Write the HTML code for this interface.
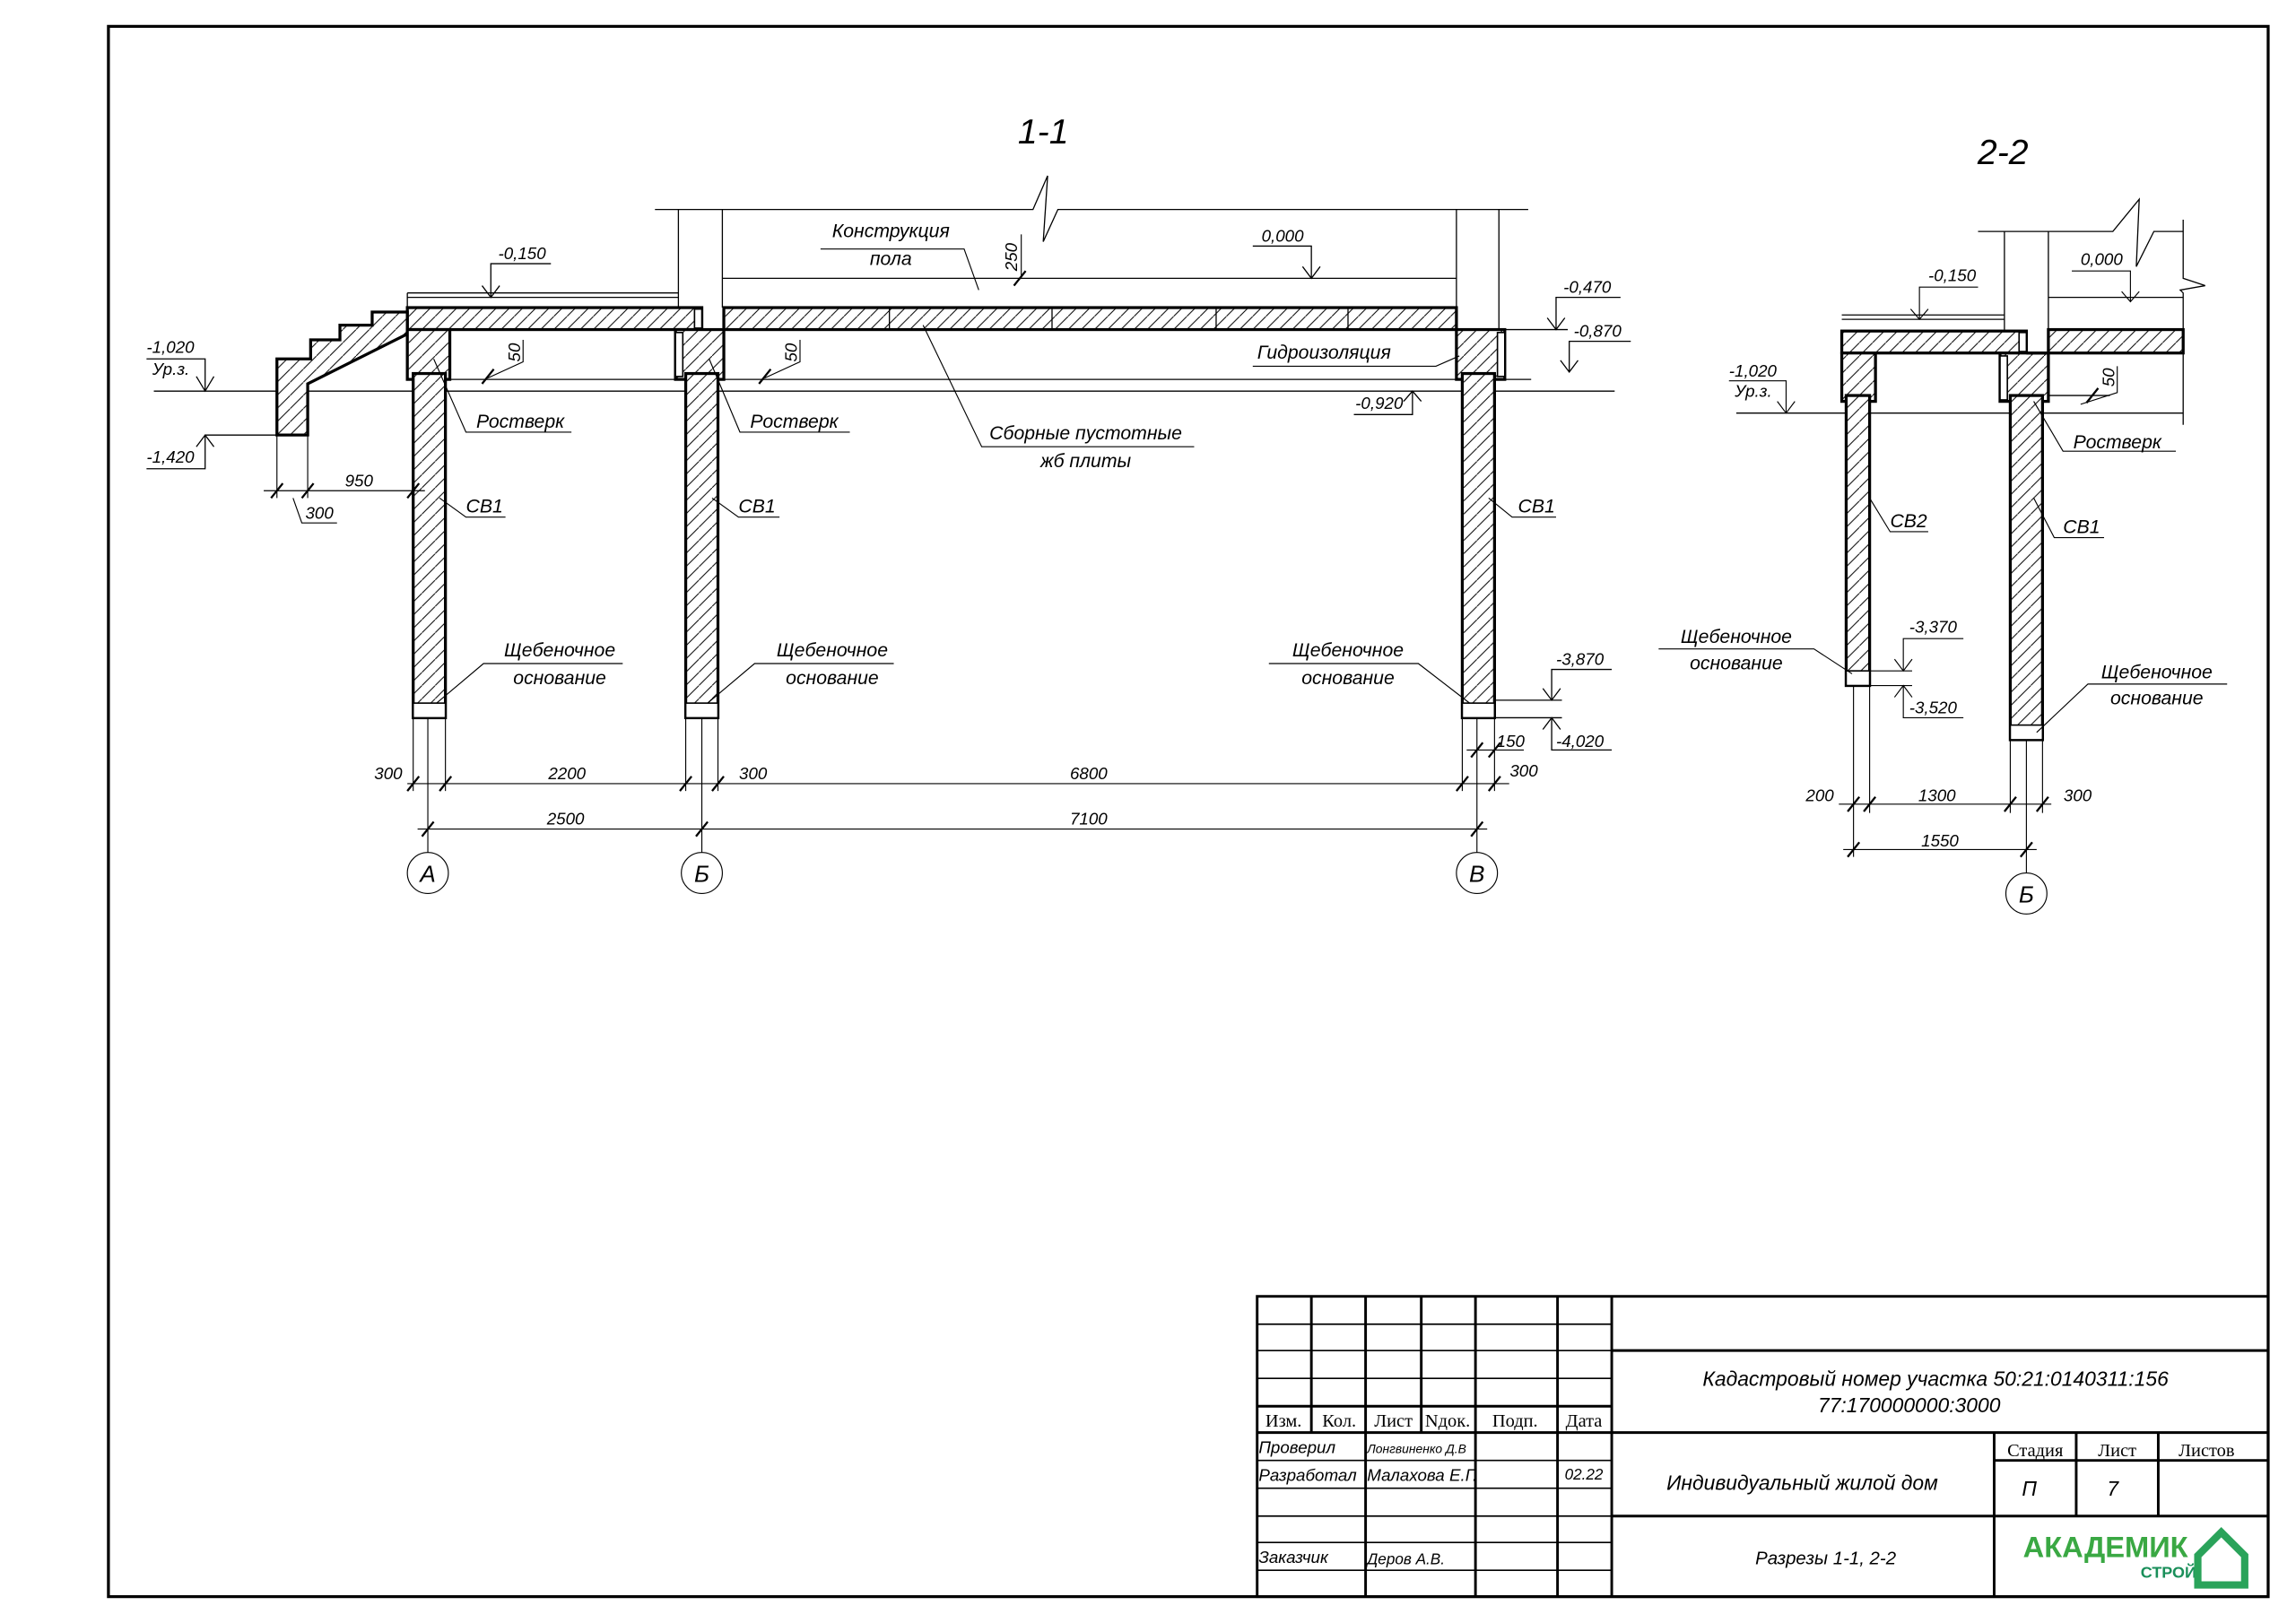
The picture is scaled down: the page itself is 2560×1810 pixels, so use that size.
<!DOCTYPE html>
<html><head><meta charset="utf-8"><style>
html,body{margin:0;padding:0;background:#fff;}
svg{display:block;}
text{font-family:"Liberation Sans","DejaVu Sans",sans-serif;font-style:italic;fill:#000;}
.s{font-size:13px;}
.d{font-size:11.5px;}
text.tn,.tn text{font-family:"Liberation Serif",serif;font-style:normal;font-size:12.5px;}
</style></head><body>
<svg width="2560" height="1810" viewBox="0 0 1567 1108" preserveAspectRatio="none" xmlns="http://www.w3.org/2000/svg">
<defs>
<pattern id="h" width="9" height="9" patternUnits="userSpaceOnUse">
<rect width="9" height="9" fill="#fff"/>
<line x1="0" y1="9" x2="9" y2="0" stroke="#000" stroke-width="0.6"/>
</pattern>
</defs>
<rect x="0" y="0" width="1567" height="1108" fill="#fff"/>
<rect x="74" y="18" width="1474" height="1072" fill="none" stroke="#000" stroke-width="2"/>

<text x="712" y="98" font-size="24" text-anchor="middle">1-1</text>
<g stroke="#000" stroke-width="0.8" fill="none">
<polyline points="447,143 705,143 715,120 712,165 722,143 1043,143"/>
<line x1="463" y1="143" x2="463" y2="210"/>
<line x1="493" y1="143" x2="493" y2="210"/>
<line x1="994" y1="143" x2="994" y2="210"/>
<line x1="1023" y1="143" x2="1023" y2="225"/>
<line x1="493" y1="190" x2="994" y2="190"/>
<line x1="278" y1="200" x2="463" y2="200"/>
<line x1="278" y1="203" x2="463" y2="203"/>
<line x1="278" y1="200" x2="278" y2="210"/>
<line x1="105" y1="267" x2="1102" y2="267"/>
<line x1="278" y1="259" x2="460" y2="259"/>
<line x1="494" y1="259" x2="994" y2="259"/>
<line x1="1027" y1="259" x2="1045" y2="259"/>
<line x1="1027" y1="225" x2="1070" y2="225"/>
</g>
<g stroke="#000" stroke-width="2" fill="url(#h)">
<rect x="278" y="210" width="201" height="15"/>
<rect x="494" y="210" width="500" height="15"/>
<polygon points="189,245 212,245 212,232 232,232 232,222 254,222 254,213 278,213 278,228 210,262 210,297 189,297"/>
<rect x="278" y="225" width="29" height="34"/>
<rect x="461" y="225" width="33" height="34"/>
<rect x="994" y="225" width="33" height="34"/>
<rect x="282" y="255" width="22" height="235"/>
<rect x="468" y="255" width="22" height="235"/>
<rect x="998" y="255" width="22" height="235"/>
</g>
<g stroke="#000" stroke-width="1" fill="#fff">
<rect x="282" y="480" width="22" height="10"/>
<rect x="468" y="480" width="22" height="10"/>
<rect x="998" y="480" width="22" height="10"/>
<rect x="461" y="227" width="5" height="30"/>
<rect x="1022" y="227" width="5" height="30"/>
<rect x="474" y="211" width="5" height="13"/>
</g>
<g stroke="#000" stroke-width="0.8">
<line x1="607" y1="210" x2="607" y2="225"/><line x1="718" y1="210" x2="718" y2="225"/>
<line x1="830" y1="210" x2="830" y2="225"/><line x1="920" y1="210" x2="920" y2="225"/>
</g>
<g stroke="#000" stroke-width="0.7" fill="none">
<line x1="292" y1="490" x2="292" y2="582"/><line x1="479" y1="490" x2="479" y2="582"/><line x1="1008" y1="490" x2="1008" y2="582"/>
<line x1="282" y1="490" x2="282" y2="540"/><line x1="304" y1="490" x2="304" y2="540"/>
<line x1="468" y1="490" x2="468" y2="540"/><line x1="490" y1="490" x2="490" y2="540"/>
<line x1="998" y1="490" x2="998" y2="540"/><line x1="1020" y1="490" x2="1020" y2="540"/>
<line x1="189" y1="297" x2="189" y2="340"/><line x1="210" y1="297" x2="210" y2="340"/>
<line x1="278" y1="535" x2="1030" y2="535"/>
<line x1="285" y1="566" x2="1015" y2="566"/>
<line x1="180" y1="335" x2="290" y2="335"/>
<line x1="1001" y1="512" x2="1040" y2="512"/>
<circle cx="292" cy="596" r="14"/><circle cx="479" cy="596" r="14"/><circle cx="1008" cy="596" r="14"/>
</g>
<g stroke="#000" stroke-width="1.4">
<line x1="278" y1="540" x2="286" y2="530"/><line x1="300" y1="540" x2="308" y2="530"/>
<line x1="464" y1="540" x2="472" y2="530"/><line x1="486" y1="540" x2="494" y2="530"/>
<line x1="994" y1="540" x2="1002" y2="530"/><line x1="1016" y1="540" x2="1024" y2="530"/>
<line x1="288" y1="571" x2="296" y2="561"/><line x1="475" y1="571" x2="483" y2="561"/><line x1="1004" y1="571" x2="1012" y2="561"/>
<line x1="185" y1="340" x2="193" y2="330"/><line x1="206" y1="340" x2="214" y2="330"/><line x1="278" y1="340" x2="286" y2="330"/>
<line x1="1004" y1="517" x2="1012" y2="507"/><line x1="1016" y1="517" x2="1024" y2="507"/>
<line x1="329" y1="262" x2="337" y2="252"/><line x1="518" y1="262" x2="526" y2="252"/><line x1="692" y1="195" x2="700" y2="185"/>
</g>
<g class="d">
<text x="265" y="532" text-anchor="middle">300</text>
<text x="387" y="532" text-anchor="middle">2200</text>
<text x="514" y="532" text-anchor="middle">300</text>
<text x="743" y="532" text-anchor="middle">6800</text>
<text x="1040" y="530" text-anchor="middle">300</text>
<text x="1031" y="510" text-anchor="middle">150</text>
<text x="386" y="563" text-anchor="middle">2500</text>
<text x="743" y="563" text-anchor="middle">7100</text>
<text x="245" y="332" text-anchor="middle">950</text>
<text x="218" y="354" text-anchor="middle">300</text>
</g>
<g font-size="16" text-anchor="middle"><text x="292" y="602">А</text><text x="479" y="602">Б</text><text x="1008" y="602">В</text></g>
<g stroke="#000" stroke-width="0.7" fill="none">
<polyline points="200,340 206,357 230,357"/>
<polyline points="296,245 318,295 390,295"/>
<polyline points="484,245 505,295 580,295"/>
<polyline points="300,340 318,353 345,353"/>
<polyline points="486,340 504,353 532,353"/>
<polyline points="1016,340 1032,353 1062,353"/>
<polyline points="298,480 330,453 425,453"/>
<polyline points="483,480 515,453 610,453"/>
<polyline points="1003,480 968,453 866,453"/>
<polyline points="630,222 670,305 815,305"/>
<polyline points="668,198 658,170 560,170"/>
<polyline points="996,243 980,250 855,250"/>
<polyline points="333,258 357,247 357,232"/>
<polyline points="522,258 546,247 546,232"/>
<polyline points="697,190 697,160"/>
</g>
<g class="s">
<text x="325" y="292">Ростверк</text>
<text x="512" y="292">Ростверк</text>
<text x="318" y="350">СВ1</text>
<text x="504" y="350">СВ1</text>
<text x="1036" y="350">СВ1</text>
<text x="382" y="448" text-anchor="middle">Щебеночное</text>
<text x="382" y="467" text-anchor="middle">основание</text>
<text x="568" y="448" text-anchor="middle">Щебеночное</text>
<text x="568" y="467" text-anchor="middle">основание</text>
<text x="920" y="448" text-anchor="middle">Щебеночное</text>
<text x="920" y="467" text-anchor="middle">основание</text>
<text x="608" y="162" text-anchor="middle">Конструкция</text>
<text x="608" y="181" text-anchor="middle">пола</text>
<text x="741" y="300" text-anchor="middle">Сборные пустотные</text>
<text x="741" y="319" text-anchor="middle">жб плиты</text>
<text x="858" y="245">Гидроизоляция</text>
</g>
<g class="d">
<text x="355" y="247" transform="rotate(-90 355 247)">50</text>
<text x="544" y="247" transform="rotate(-90 544 247)">50</text>
<text x="694" y="185" transform="rotate(-90 694 185)">250</text>
</g>
<g stroke="#000" stroke-width="0.8" fill="none">
<polyline points="329,195 335,203 341,195"/><polyline points="335,203 335,180 376,180"/>
<polyline points="889,182 895,190 901,182"/><polyline points="895,190 895,168 855,168"/>
<polyline points="134,257 140,267 146,257"/><polyline points="140,267 140,245 100,245"/>
<polyline points="134,305 140,297 146,305"/><polyline points="140,297 140,320 100,320"/>
<line x1="140" y1="297" x2="189" y2="297"/>
<polyline points="1056,217 1062,225 1068,217"/><polyline points="1062,225 1062,203 1106,203"/>
<polyline points="1065,246 1071,254 1077,246"/><polyline points="1071,254 1071,233 1113,233"/>
<polyline points="958,274 964,267 970,274"/><polyline points="964,267 964,283 924,283"/>
<polyline points="1053,470 1059,478 1065,470"/><polyline points="1059,478 1059,457 1100,457"/>
<polyline points="1053,498 1059,490 1065,498"/><polyline points="1059,490 1059,512 1100,512"/>
<line x1="1020" y1="478" x2="1066" y2="478"/><line x1="1020" y1="490" x2="1066" y2="490"/>
</g>
<g class="d">
<text x="340" y="177">-0,150</text>
<text x="861" y="165">0,000</text>
<text x="100" y="241">-1,020</text>
<text x="104" y="256">Ур.з.</text>
<text x="100" y="316">-1,420</text>
<text x="1067" y="200">-0,470</text>
<text x="1074" y="230">-0,870</text>
<text x="925" y="279">-0,920</text>
<text x="1062" y="454">-3,870</text>
<text x="1062" y="510">-4,020</text>
</g>

<text x="1367" y="112" font-size="24" text-anchor="middle">2-2</text>
<g stroke="#000" stroke-width="0.8" fill="none">
<polyline points="1350,158 1442,158 1460,136 1458,182 1470,158 1490,158"/>
<polyline points="1490,150 1490,190 1505,195 1488,198 1490,200 1490,290"/>
<line x1="1368" y1="158" x2="1368" y2="225"/>
<line x1="1398" y1="158" x2="1398" y2="225"/>
<line x1="1398" y1="203" x2="1490" y2="203"/>
<line x1="1257" y1="215" x2="1368" y2="215"/>
<line x1="1257" y1="218" x2="1368" y2="218"/>
<line x1="1185" y1="282" x2="1490" y2="282"/>
<line x1="1398" y1="270" x2="1440" y2="270"/>
</g>
<g stroke="#000" stroke-width="2" fill="url(#h)">
<rect x="1257" y="226" width="126" height="15"/>
<rect x="1398" y="225" width="92" height="16"/>
<rect x="1257" y="241" width="23" height="33"/>
<rect x="1365" y="241" width="33" height="33"/>
<rect x="1260" y="270" width="16" height="198"/>
<rect x="1372" y="270" width="22" height="235"/>
<line x1="1383" y1="241" x2="1398" y2="241"/>
</g>
<g stroke="#000" stroke-width="1" fill="#fff">
<rect x="1260" y="458" width="16" height="10"/>
<rect x="1372" y="495" width="22" height="10"/>
<rect x="1365" y="243" width="5" height="30"/>
<rect x="1378" y="227" width="5" height="13"/>
</g>
<g stroke="#000" stroke-width="0.7" fill="none">
<line x1="1265" y1="468" x2="1265" y2="585"/><line x1="1276" y1="468" x2="1276" y2="555"/>
<line x1="1372" y1="505" x2="1372" y2="555"/><line x1="1394" y1="505" x2="1394" y2="555"/>
<line x1="1383" y1="505" x2="1383" y2="596"/>
<line x1="1255" y1="549" x2="1400" y2="549"/>
<line x1="1258" y1="580" x2="1390" y2="580"/>
<circle cx="1383" cy="610" r="14"/>
<line x1="1276" y1="458" x2="1305" y2="458"/><line x1="1276" y1="468" x2="1305" y2="468"/>
<polyline points="1293,450 1299,458 1305,450"/><polyline points="1299,458 1299,436 1340,436"/>
<polyline points="1293,476 1299,468 1305,476"/><polyline points="1299,468 1299,490 1340,490"/>
<polyline points="1304,211 1310,218 1316,211"/><polyline points="1310,218 1310,196 1350,196"/>
<polyline points="1448,199 1454,206 1460,199"/><polyline points="1454,206 1454,185 1414,185"/>
<polyline points="1213,274 1219,282 1225,274"/><polyline points="1219,282 1219,260 1180,260"/>
<polyline points="1388,274 1408,308 1485,308"/>
<polyline points="1276,340 1290,363 1316,363"/>
<polyline points="1388,340 1402,367 1436,367"/>
<polyline points="1264,460 1238,443 1132,443"/>
<polyline points="1390,500 1425,467 1520,467"/>
<polyline points="1420,276 1445,268 1445,250"/>
</g>
<g stroke="#000" stroke-width="1.4">
<line x1="1261" y1="554" x2="1269" y2="544"/><line x1="1272" y1="554" x2="1280" y2="544"/>
<line x1="1368" y1="554" x2="1376" y2="544"/><line x1="1390" y1="554" x2="1398" y2="544"/>
<line x1="1261" y1="585" x2="1269" y2="575"/><line x1="1379" y1="585" x2="1387" y2="575"/>
<line x1="1424" y1="275" x2="1432" y2="265"/>
</g>
<g class="d">
<text x="1242" y="547" text-anchor="middle">200</text>
<text x="1322" y="547" text-anchor="middle">1300</text>
<text x="1418" y="547" text-anchor="middle">300</text>
<text x="1324" y="578" text-anchor="middle">1550</text>
<text x="1316" y="192">-0,150</text>
<text x="1420" y="181">0,000</text>
<text x="1180" y="257">-1,020</text>
<text x="1184" y="271">Ур.з.</text>
<text x="1303" y="432">-3,370</text>
<text x="1303" y="487">-3,520</text>
<text x="1443" y="264" transform="rotate(-90 1443 264)">50</text>
</g>
<text x="1383" y="616" font-size="16" text-anchor="middle">Б</text>
<g class="s">
<text x="1415" y="306">Ростверк</text>
<text x="1290" y="360">СВ2</text>
<text x="1408" y="364">СВ1</text>
<text x="1185" y="439" text-anchor="middle">Щебеночное</text>
<text x="1185" y="457" text-anchor="middle">основание</text>
<text x="1472" y="463" text-anchor="middle">Щебеночное</text>
<text x="1472" y="481" text-anchor="middle">основание</text>
</g>

<g stroke="#000" stroke-width="1.8" fill="none">
<rect x="858" y="885" width="690" height="205"/>
<line x1="1100" y1="885" x2="1100" y2="1090"/>
<line x1="1100" y1="922" x2="1548" y2="922"/>
<line x1="858" y1="978" x2="1548" y2="978"/>
<line x1="1100" y1="1035" x2="1548" y2="1035"/>
<line x1="1361" y1="978" x2="1361" y2="1090"/>
<line x1="1417" y1="978" x2="1417" y2="1035"/>
<line x1="1473" y1="978" x2="1473" y2="1035"/>
<line x1="1361" y1="997" x2="1548" y2="997"/>
<line x1="858" y1="960" x2="1100" y2="960"/>
<line x1="932" y1="885" x2="932" y2="1090"/>
<line x1="1007" y1="885" x2="1007" y2="1090"/>
<line x1="1063" y1="885" x2="1063" y2="1090"/>
<line x1="895" y1="885" x2="895" y2="978"/>
<line x1="970" y1="885" x2="970" y2="978"/>
</g>
<g stroke="#000" stroke-width="1" fill="none">
<line x1="858" y1="904" x2="1100" y2="904"/>
<line x1="858" y1="922" x2="1100" y2="922"/>
<line x1="858" y1="941" x2="1100" y2="941"/>
<line x1="858" y1="997" x2="1100" y2="997"/>
<line x1="858" y1="1016" x2="1100" y2="1016"/>
<line x1="858" y1="1035" x2="1100" y2="1035"/>
<line x1="858" y1="1053" x2="1100" y2="1053"/>
<line x1="858" y1="1072" x2="1100" y2="1072"/>
</g>
<g class="tn">
<text x="876" y="974" text-anchor="middle" style="font-style:normal">Изм.</text>
<text x="914" y="974" text-anchor="middle" style="font-style:normal">Кол.</text>
<text x="951" y="974" text-anchor="middle" style="font-style:normal">Лист</text>
<text x="988" y="974" text-anchor="middle" style="font-style:normal">Nдок.</text>
<text x="1034" y="974" text-anchor="middle" style="font-style:normal">Подп.</text>
<text x="1081" y="974" text-anchor="middle" style="font-style:normal">Дата</text>
<text x="1389" y="994" text-anchor="middle" style="font-style:normal">Стадия</text>
<text x="1445" y="994" text-anchor="middle" style="font-style:normal">Лист</text>
<text x="1506" y="994" text-anchor="middle" style="font-style:normal">Листов</text>
</g>
<g font-size="11.5">
<text x="859" y="992">Проверил</text>
<text x="859" y="1011">Разработал</text>
<text x="859" y="1067">Заказчик</text>
<text x="933" y="992" font-size="8.5">Лонгвиненко Д.В</text>
<text x="933" y="1011">Малахова Е.Г.</text>
<text x="933" y="1068" font-size="10.5">Деров А.В.</text>
<text x="1081" y="1010" text-anchor="middle" font-size="10.5">02.22</text>
</g>
<g font-size="14" text-anchor="middle">
<text x="1321" y="946">Кадастровый номер участка 50:21:0140311:156</text>
<text x="1303" y="964">77:170000000:3000</text>
<text x="1230" y="1017">Индивидуальный жилой дом</text>
<text x="1246" y="1068" font-size="12.5">Разрезы 1-1, 2-2</text>
<text x="1385" y="1021">П</text>
<text x="1442" y="1021">7</text>
</g>
<text x="1437" y="1063" font-size="20" font-weight="bold" text-anchor="middle" style="fill:#3aa843;font-style:normal">АКАДЕМИК</text>
<text x="1480" y="1077" font-size="11" font-weight="bold" text-anchor="middle" style="fill:#1a8f5a;font-style:normal">СТРОЙ</text>
<polygon points="1500,1062 1516,1046 1532,1062 1532,1082 1500,1082" fill="none" stroke="#2aa35a" stroke-width="5"/>
</svg>
</body></html>
